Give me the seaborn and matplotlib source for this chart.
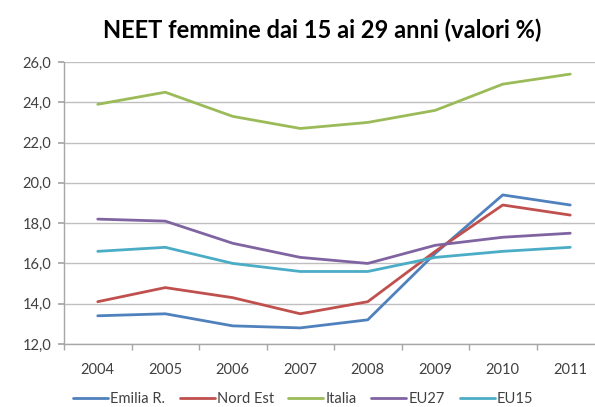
import matplotlib
matplotlib.use("Agg")
import matplotlib.pyplot as plt
from matplotlib.ticker import FixedLocator, FuncFormatter
import seaborn as sns
import pandas as pd

years = ["2004", "2005", "2006", "2007", "2008", "2009", "2010", "2011"]
emilia_r = [13.4, 13.5, 12.9, 12.8, 13.2, 16.5, 19.4, 18.9]
nord_est = [14.1, 14.8, 14.3, 13.5, 14.1, 16.6, 18.9, 18.4]
italia = [23.9, 24.5, 23.3, 22.7, 23.0, 23.6, 24.9, 25.4]
eu27 = [18.2, 18.1, 17.0, 16.3, 16.0, 16.9, 17.3, 17.5]
eu15 = [16.6, 16.8, 16.0, 15.6, 15.6, 16.3, 16.6, 16.8]

series = {
    "Emilia R.": emilia_r,
    "Nord Est": nord_est,
    "Italia": italia,
    "EU27": eu27,
    "EU15": eu15,
}
colors = ["#4F81BD", "#C0504D", "#9BBB59", "#8064A2", "#4BACC6"]

rows = []
for name, vals in series.items():
    for i, (yr, v) in enumerate(zip(years, vals)):
        rows.append({"pos": i, "anno": yr, "serie": name, "valore": v})
df = pd.DataFrame(rows)

sns.set_theme(style="white")
plt.rcParams["font.family"] = ["Lato", "DejaVu Sans"]

fig = plt.figure(figsize=(5.95, 4.07), dpi=100)
ax = fig.add_axes([64 / 595, 1 - 344 / 407, (604 - 64) / 595, (344 - 62) / 407])

sns.lineplot(data=df, x="pos", y="valore", hue="serie", palette=colors,
             linewidth=2.0, ax=ax, legend=True)

ax.set_xlim(-0.5, len(years) - 0.5)
ax.set_ylim(12, 26)
ax.set_xlabel("")
ax.set_ylabel("")

ax.set_yticks([12, 14, 16, 18, 20, 22, 24, 26])
ax.yaxis.set_major_formatter(FuncFormatter(lambda v, p: f"{v:.1f}".replace(".", ",")))
ax.set_xticks(range(len(years)))
ax.set_xticklabels(years)
ax.xaxis.set_minor_locator(FixedLocator([i + 0.5 for i in range(-1, len(years))]))

ax.grid(axis="y", color="#BFBFBF", linewidth=1)
ax.set_axisbelow(True)
for s in ["top", "right"]:
    ax.spines[s].set_visible(False)
for s in ["left", "bottom"]:
    ax.spines[s].set_color("#A6A6A6")
    ax.spines[s].set_linewidth(1)

ax.tick_params(axis="y", which="major", left=True, length=4, color="#A6A6A6",
               labelsize=10.5, labelcolor="#404040", pad=5)
ax.tick_params(axis="x", which="major", bottom=False, labelsize=10.5,
               labelcolor="#404040", pad=8)
ax.tick_params(axis="x", which="minor", bottom=True, length=4, color="#A6A6A6")

fig.text(322 / 595, 1 - 30 / 407, "NEET femmine dai 15 ai 29 anni (valori %)",
         ha="center", va="center", fontsize=17, fontweight="bold", color="black")

handles, labels = ax.get_legend_handles_labels()
ax.legend(handles, labels, loc="center", bbox_to_anchor=(303 / 595, 1 - 399 / 407),
          bbox_transform=fig.transFigure, ncol=5, frameon=False, fontsize=10.5,
          handlelength=2.4, handletextpad=0.15, columnspacing=1.0,
          labelcolor="#404040")

fig.savefig("out.png", dpi=100)
